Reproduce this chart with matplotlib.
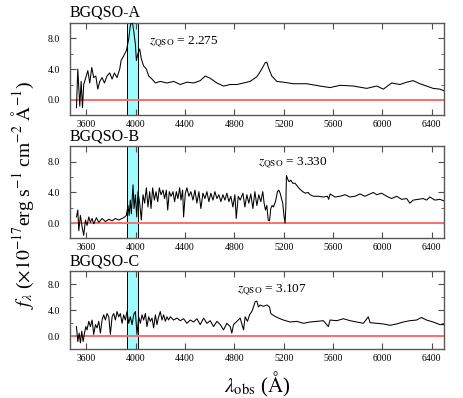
import matplotlib
matplotlib.use('Agg')
import matplotlib.pyplot as plt
from matplotlib.ticker import MultipleLocator, FormatStrFormatter

plt.rcParams['font.family'] = ['Liberation Serif', 'DejaVu Serif']
plt.rcParams['mathtext.fontset'] = 'stix'

names = ['BGQSO-A', 'BGQSO-B', 'BGQSO-C']
redshifts = ['2.275', '3.330', '3.107']
zlabel_x = [4105, 4995, 4820]
zlabel_y = [7.5, 7.8, 7.1]
band = [3925, 4015]

wave_a = [3519, 3530, 3546, 3557, 3568, 3578, 3595, 3611, 3627, 3643, 3659, 3676, 3692, 3708,
          3727, 3746, 3767, 3789, 3808, 3827, 3848, 3870, 3881, 3902, 3924, 3943, 3956, 3970,
          3983, 3997, 4005, 4016, 4032, 4045, 4064, 4086, 4105, 4132, 4159, 4199, 4253, 4307,
          4361, 4415, 4469, 4523, 4564, 4604, 4658, 4712, 4766, 4820, 4874, 4928, 4982, 5022,
          5049, 5063, 5076, 5103, 5144, 5198, 5279, 5387, 5495, 5576, 5657, 5765, 5873, 5954,
          6008, 6075, 6143, 6197, 6250, 6304, 6358, 6412, 6466, 6499]
flux_a = [-1.0, 4.0, -0.8, 2.4, -1.0, 2.0, 2.9, 3.8, 2.2, 4.2, 2.9, 3.1, 1.4, 2.4,
          2.9, 2.2, 3.1, 3.5, 2.7, 3.5, 2.9, 4.0, 5.1, 5.7, 6.4, 7.9, 9.6, 10.3,
          9.0, 7.2, 5.1, 5.9, 6.6, 5.3, 4.4, 4.0, 3.1, 2.7, 2.2, 2.4, 2.2, 2.4,
          2.0, 2.3, 2.2, 2.5, 3.1, 2.8, 2.2, 1.8, 2.0, 2.0, 2.2, 2.4, 3.0, 4.0,
          4.8, 4.9, 4.2, 3.1, 2.4, 2.3, 2.1, 2.1, 1.8, 1.6, 1.9, 1.8, 1.5, 1.8,
          1.4, 2.2, 2.0, 2.3, 2.5, 2.1, 1.8, 1.5, 1.4, 1.2]

wave_b = [3519, 3530, 3538, 3551, 3565, 3578, 3592, 3605, 3619, 3632, 3646, 3659, 3681, 3700,
          3727, 3754, 3781, 3808, 3835, 3862, 3889, 3910, 3924, 3937, 3946, 3956, 3964, 3978,
          3986, 3997, 4008, 4018, 4032, 4045, 4059, 4072, 4086, 4099, 4113, 4124, 4137, 4151,
          4164, 4178, 4191, 4205, 4221, 4234, 4248, 4259, 4272, 4286, 4302, 4315, 4329, 4342,
          4356, 4367, 4380, 4388, 4402, 4415, 4431, 4447, 4464, 4480, 4496, 4512, 4528, 4545,
          4561, 4577, 4593, 4609, 4626, 4642, 4658, 4674, 4690, 4707, 4723, 4739, 4755, 4771,
          4788, 4804, 4815, 4831, 4847, 4869, 4885, 4901, 4917, 4933, 4950, 4966, 4982, 4998,
          5014, 5030, 5041, 5052, 5063, 5074, 5085, 5095, 5106, 5117, 5133, 5149, 5160, 5171,
          5182, 5192, 5203, 5211, 5217, 5222, 5233, 5244, 5257, 5273, 5292, 5311, 5333, 5354,
          5376, 5398, 5414, 5441, 5481, 5522, 5554, 5565, 5576, 5616, 5657, 5697, 5738, 5778,
          5819, 5859, 5900, 5927, 5954, 5994, 6035, 6075, 6116, 6156, 6197, 6223, 6250, 6291,
          6331, 6358, 6385, 6426, 6466, 6499]
flux_b = [0.8, 1.7, -1.0, 1.0, -0.5, -1.6, 0.4, -0.3, 0.8, 0.1, 0.6, -0.1, 0.7, 0.1,
          0.6, 0.2, 0.5, 0.3, 0.6, 0.4, 0.6, 0.8, 1.0, 2.3, 1.0, 3.0, 1.2, 5.0,
          1.9, 3.7, 0.8, 4.1, 2.6, 0.4, 3.7, 2.6, 4.6, 2.1, 4.1, 1.9, 4.6, 3.0,
          4.1, 2.8, 4.6, 3.7, 4.3, 3.2, 4.3, 1.7, 4.1, 3.5, 4.1, 2.8, 4.1, 3.2,
          4.6, 3.0, 4.3, 0.8, 3.9, 4.6, 3.5, 4.1, 3.0, 4.3, 2.6, 4.1, 1.9, 3.9,
          3.2, 4.1, 2.8, 3.9, 3.0, 4.1, 3.2, 3.7, 2.8, 3.7, 3.0, 3.9, 2.8, 3.5,
          2.1, 3.7, 0.6, 3.5, 3.0, 3.9, 2.1, 3.7, 2.6, 3.8, 1.9, 4.1, 2.3, 3.7,
          2.8, 4.1, 2.6, 1.7, 2.3, 0.4, 0.3, 1.9, 2.3, 2.1, 2.8, 4.1, 4.3, 3.9,
          3.2, 2.6, 0.8, 0.0, 2.1, 6.2, 5.7, 5.4, 5.6, 5.2, 5.2, 4.8, 4.4, 4.1,
          3.9, 4.0, 3.7, 3.5, 3.5, 3.4, 3.5, 3.1, 3.8, 3.4, 3.5, 3.7, 3.4, 3.5,
          3.8, 3.5, 3.8, 4.0, 3.7, 3.9, 3.5, 3.2, 3.5, 3.1, 3.2, 2.6, 3.0, 3.1,
          3.2, 3.0, 3.4, 3.0, 3.1, 2.9]

wave_c = [3519, 3530, 3541, 3551, 3562, 3573, 3584, 3595, 3605, 3619, 3632, 3646, 3659, 3673,
          3686, 3700, 3713, 3727, 3740, 3754, 3767, 3781, 3794, 3808, 3821, 3835, 3848, 3862,
          3875, 3889, 3902, 3916, 3929, 3943, 3956, 3970, 3983, 3997, 4010, 4024, 4037, 4051,
          4064, 4078, 4091, 4105, 4118, 4132, 4145, 4159, 4172, 4186, 4199, 4213, 4226, 4240,
          4253, 4267, 4280, 4307, 4334, 4361, 4388, 4415, 4442, 4469, 4496, 4523, 4550, 4577,
          4604, 4631, 4658, 4685, 4712, 4739, 4766, 4779, 4793, 4820, 4847, 4874, 4887, 4906,
          4923, 4941, 4955, 4968, 4982, 4995, 5009, 5036, 5063, 5085, 5095, 5117, 5157, 5198,
          5252, 5306, 5360, 5414, 5468, 5522, 5562, 5576, 5630, 5684, 5738, 5792, 5846, 5886,
          5900, 5954, 6008, 6062, 6116, 6170, 6223, 6277, 6318, 6358, 6412, 6466, 6499]
flux_c = [1.5, -0.8, 0.5, -1.0, 0.8, -0.8, 0.5, 1.5, 1.0, 2.3, 1.5, 2.5, 0.3, 1.8,
          1.3, 2.3, 0.5, 2.5, 3.3, 2.5, 3.5, 3.0, 0.3, 3.0, 3.5, 2.5, 3.8, 3.0,
          3.5, 2.0, 3.3, 2.5, 3.8, 2.0, 3.0, 1.8, 3.3, 3.8, 0.3, 3.0, 2.0, 3.3,
          2.5, 3.5, 1.5, 3.0, 2.3, 2.8, 1.3, 3.3, 1.8, 3.0, 3.8, 2.5, 3.3, 2.3,
          3.0, 2.5, 3.0, 2.5, 2.8, 2.4, 2.7, 2.0, 2.5, 2.2, 2.7, 1.8, 2.8, 2.0,
          2.4, 1.5, 2.3, 1.8, 1.0, 2.0, 1.5, 0.5, 1.8, 2.3, 2.8, 1.0, 3.0, 2.3,
          3.3, 3.8, 4.5, 5.3, 5.4, 4.5, 4.8, 4.6, 4.8, 4.5, 3.5, 3.2, 2.8, 2.5,
          2.2, 2.3, 2.0, 2.2, 2.3, 2.4, 1.5, 2.5, 2.4, 2.7, 2.4, 2.2, 2.0, 3.0,
          2.1, 2.0, 1.9, 1.7, 1.9, 2.2, 2.4, 2.5, 2.9, 2.5, 2.2, 1.8, 1.8]

waves = [wave_a, wave_b, wave_c]
fluxes = [flux_a, flux_b, flux_c]

rects = [[0.151, 0.710, 0.808, 0.233],
         [0.151, 0.401, 0.808, 0.231],
         [0.151, 0.122, 0.808, 0.197]]

fig = plt.figure(figsize=(4.63, 3.98), dpi=100)

for i in range(3):
    ax = fig.add_axes(rects[i])
    ax.axvspan(band[0], band[1], facecolor='#a0fcfc', edgecolor='black', linewidth=0.7, zorder=1)
    ax.axhline(0.0, color='#ff6e6e', linewidth=1.4, zorder=2)
    ax.plot(waves[i], fluxes[i], color='black', linewidth=0.75, zorder=3)
    ax.set_xlim(3466, 6500)
    ax.set_ylim(-2, 10)
    ax.xaxis.set_major_locator(MultipleLocator(400))
    ax.yaxis.set_major_locator(MultipleLocator(4))
    ax.yaxis.set_minor_locator(MultipleLocator(2))
    ax.yaxis.set_major_formatter(FormatStrFormatter('%.1f'))
    ax.tick_params(which='both', direction='in', top=True, right=True, labelsize=7,
                   color='0.3')
    ax.tick_params(axis='y', pad=7)
    ax.tick_params(axis='x', pad=3)
    ax.tick_params(which='major', length=4)
    ax.tick_params(which='minor', length=2)
    for s in ax.spines.values():
        s.set_color('0.35')
        s.set_linewidth(1.0)
    ax.text(3466, 10.3, names[i], fontsize=11.5, ha='left', va='bottom')
    ax.text(zlabel_x[i], zlabel_y[i], r'$z_{\rm QSO}$ = ' + redshifts[i], fontsize=9.5,
            ha='left', va='center')

fig.text(0.555, 0.035, r'$\lambda_{\rm obs}$ ($\rm\AA$)', fontsize=15, ha='center', va='center')
fig.text(0.05, 0.51, r'$f_\lambda$ ($\times10^{-17}$erg s$^{-1}$ cm$^{-2}$ $\rm\AA^{-1}$)',
         fontsize=14, rotation=90, ha='center', va='center')

fig.savefig('out.png', dpi=100)
